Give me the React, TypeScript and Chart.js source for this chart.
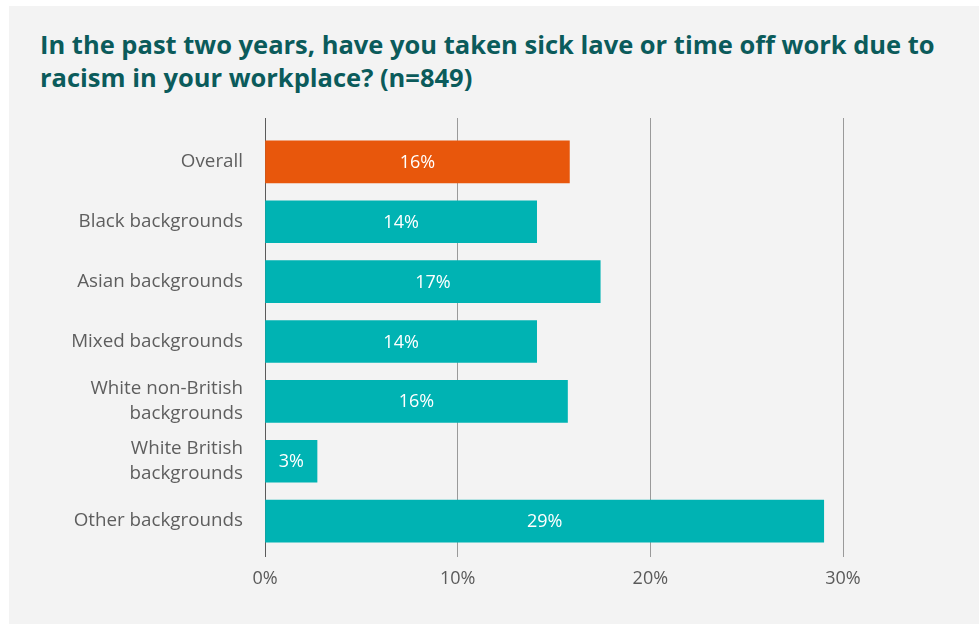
import React, { useEffect, useRef } from "react";
import { Chart, registerables } from "chart.js";

Chart.register(...registerables);

const categories: (string | string[])[] = [
  "Overall",
  "Black backgrounds",
  "Asian backgrounds",
  "Mixed backgrounds",
  ["White non-British", "backgrounds"],
  ["White British", "backgrounds"],
  "Other backgrounds",
];
const values = [15.8, 14.1, 17.4, 14.1, 15.7, 2.7, 29.0];
const valueLabels = ["16%", "14%", "17%", "14%", "16%", "3%", "29%"];
const barColors = ["#e8570c", "#00b3b3", "#00b3b3", "#00b3b3", "#00b3b3", "#00b3b3", "#00b3b3"];
const xTicks = [0, 10, 20, 30];

const TITLE_LINES = [
  "In the past two years, have you taken sick lave or time off work due to",
  "racism in your workplace? (n=849)",
];
const FONT = "'Open Sans', sans-serif";

const labelPlugin = {
  id: "barLabels",
  afterDatasetsDraw(chart: any) {
    const ctx = chart.ctx;
    const meta = chart.getDatasetMeta(0);
    ctx.save();
    ctx.fillStyle = "#ffffff";
    ctx.font = `18px ${FONT}`;
    ctx.textAlign = "center";
    ctx.textBaseline = "middle";
    meta.data.forEach((el: any, i: number) => {
      const x = (el.x + el.base) / 2;
      ctx.fillText(valueLabels[i], x, el.y + 1);
    });
    ctx.restore();
  },
};

export default function App() {
  const ref = useRef<HTMLCanvasElement | null>(null);
  useEffect(() => {
    document.body.style.margin = "0";
    const gridColor = (c: any) => (c.tick && c.tick.value === 0 ? "#5a5a5a" : "#9a9a9a");
    const chart = new Chart(ref.current!, {
      type: "bar",
      data: {
        labels: categories,
        datasets: [
          {
            data: values,
            backgroundColor: barColors,
            barThickness: 42,
            xAxisID: "x",
          },
        ],
      },
      plugins: [labelPlugin],
      options: {
        indexAxis: "y",
        animation: false,
        responsive: false,
        maintainAspectRatio: false,
        layout: { padding: { top: 112, right: 136, left: 0, bottom: 0 } },
        plugins: { legend: { display: false }, tooltip: { enabled: false }, title: { display: false } },
        scales: {
          x: {
            position: "bottom",
            min: 0,
            max: 30,
            afterBuildTicks: (s: any) => {
              s.ticks = xTicks.map((v) => ({ value: v }));
            },
            afterFit: (s: any) => {
              s.height = 73;
            },
            border: { display: false },
            grid: { color: gridColor, lineWidth: 1, tickLength: 6 },
            ticks: {
              padding: 11,
              color: "#5a5a5a",
              font: { family: FONT, size: 18 },
              callback: (v: any) => v + "%",
            },
          },
          x2: {
            position: "top",
            min: 0,
            max: 30,
            afterBuildTicks: (s: any) => {
              s.ticks = xTicks.map((v) => ({ value: v }));
            },
            afterFit: (s: any) => {
              s.height = 14;
            },
            border: { display: false },
            grid: { color: gridColor, lineWidth: 1, tickLength: 14, drawOnChartArea: false },
            ticks: { display: false },
          },
          y: {
            afterFit: (s: any) => {
              s.width = 256;
            },
            border: { display: false },
            grid: { display: false, drawTicks: false },
            ticks: {
              padding: 22,
              color: "#5e5e5e",
              font: { family: FONT, size: 18.8, lineHeight: 1.3 },
            },
          },
        },
      },
    });
    return () => chart.destroy();
  }, []);

  return (
    <div style={{ position: "relative", width: 979, height: 624, background: "#ffffff", overflow: "hidden" }}>
      <div style={{ position: "absolute", left: 9, top: 6, width: 970, height: 618, background: "#f3f3f3" }}>
        <div
          style={{
            position: "absolute",
            left: 31,
            top: 22,
            whiteSpace: "nowrap",
            fontFamily: FONT,
            fontWeight: 700,
            fontSize: 25.5,
            lineHeight: "33px",
            color: "#0b5b5b",
          }}
        >
          {TITLE_LINES.map((l, i) => (
            <div key={i}>{l}</div>
          ))}
        </div>
        <canvas ref={ref} width={970} height={618} style={{ position: "absolute", left: 0, top: 0 }} />
      </div>
    </div>
  );
}
